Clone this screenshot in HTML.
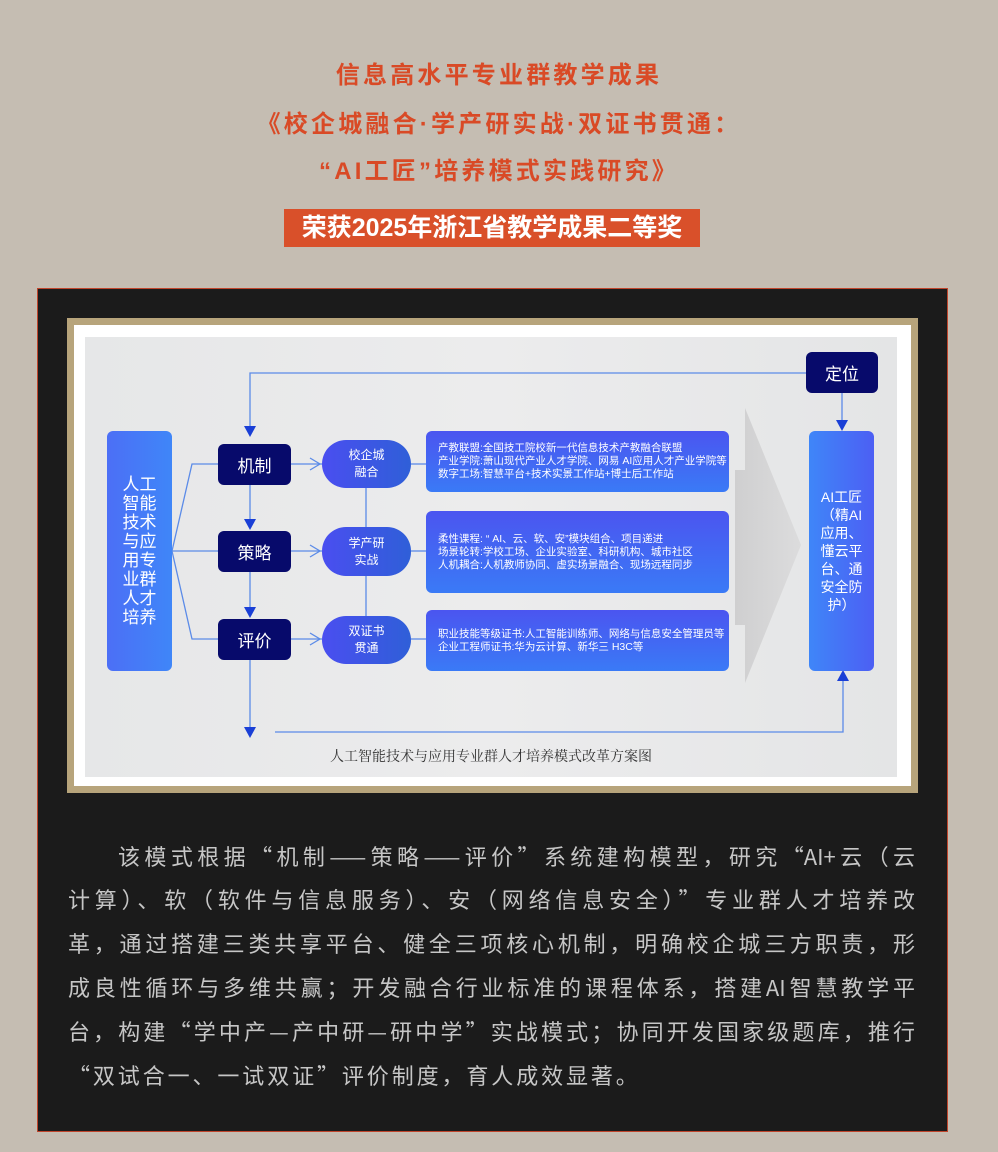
<!DOCTYPE html>
<html><head><meta charset="utf-8"><style>
*{margin:0;padding:0;box-sizing:border-box}
body{width:998px;height:1152px;background:#c5bdb2;position:relative;overflow:hidden;font-family:"Liberation Sans","Noto Sans CJK SC",sans-serif}
.t{position:absolute;left:0;width:998px;text-align:center;color:#d94a26;font-weight:bold;font-size:24px;letter-spacing:3.2px;line-height:30px}
.banner{position:absolute;left:284px;top:209px;width:416px;height:38px;background:#d9502a;color:#fff;font-weight:bold;font-size:25px;line-height:38px;text-align:center}
.panel{position:absolute;left:37px;top:288px;width:911px;height:844px;background:#1b1b1b;border:1px solid #c0452b}
.gold{position:absolute;left:67px;top:318px;width:851px;height:475px;background:#b7a47b}
.white{position:absolute;left:74px;top:325px;width:837px;height:461px;background:#fff}
.dia{position:absolute;left:85px;top:337px;width:812px;height:440px;background:linear-gradient(90deg,#e6e7e8,#ececed 50%,#e4e5e6)}
.a{position:absolute;display:flex;align-items:center;justify-content:center;text-align:center;color:#fff}
.nav{background:#070a6b;border-radius:6px;font-size:17px}
.pill{background:linear-gradient(90deg,#4a4ef0,#2f5fd8);border-radius:24px;font-size:12px;line-height:17px}
.info{background:linear-gradient(180deg,#4b55f0,#3a7af6);border-radius:6px;font-size:10.5px;line-height:13px;justify-content:flex-start;text-align:left;padding-left:12px}
.vb{background:linear-gradient(90deg,#4c6ff6,#3f86f8);border-radius:6px}
p.l{position:absolute;left:68px;width:847px;color:#c6c6c6;font-family:"Noto Sans CJK SC",sans-serif;font-size:22px;white-space:nowrap;line-height:30px;text-align:justify;text-align-last:justify}
</style></head><body>
<div class="t" style="top:61px">信息高水平专业群教学成果</div>
<div class="t" style="top:110px">《校企城融合·学产研实战·双证书贯通：</div>
<div class="t" style="top:157px">“AI工匠”培养模式实践研究》</div>
<div class="banner">荣获2025年浙江省教学成果二等奖</div>
<div class="panel"></div>
<div class="gold"></div><div class="white"></div><div class="dia"></div>
<svg style="position:absolute;left:0;top:0" width="998" height="1152">
<defs><linearGradient id="g" x1="0" x2="1"><stop offset="0" stop-color="#cfcfd0"/><stop offset="1" stop-color="#dcdcdd"/></linearGradient></defs>
<polygon points="735,470 745,470 745,408 801,545 745,683 745,625 735,625" fill="url(#g)"/>
<g stroke="#5b8be8" stroke-width="1.3" fill="none">
<polyline points="806,373 250,373 250,430"/>
<line x1="842" y1="393" x2="842" y2="420"/>
<line x1="250" y1="485" x2="250" y2="520"/>
<line x1="250" y1="572" x2="250" y2="608"/>
<line x1="250" y1="660" x2="250" y2="728"/>
<polyline points="275,732 843,732 843,680"/>
<line x1="366" y1="488" x2="366" y2="527"/>
<line x1="366" y1="576" x2="366" y2="616"/>
<polyline points="172,551 192,464 218,464"/>
<polyline points="172,551 218,551"/>
<polyline points="172,551 192,639 218,639"/>
<line x1="291" y1="464" x2="322" y2="464"/><line x1="291" y1="551" x2="322" y2="551"/><line x1="291" y1="639" x2="322" y2="639"/>
<line x1="411" y1="464" x2="426" y2="464"/><line x1="411" y1="551" x2="426" y2="551"/><line x1="411" y1="639" x2="426" y2="639"/>
<polyline points="226,458 218,464 226,470"/><polyline points="226,545 218,551 226,557"/><polyline points="226,633 218,639 226,645"/>
<polyline points="310,458 320,464 310,470"/><polyline points="310,545 320,551 310,557"/><polyline points="310,633 320,639 310,645"/>
</g>
<g fill="#1a3fd6">
<polygon points="244,426 256,426 250,437"/><polygon points="836,420 848,420 842,431"/>
<polygon points="244,519 256,519 250,530"/><polygon points="244,607 256,607 250,618"/>
<polygon points="244,727 256,727 250,738"/><polygon points="837,681 849,681 843,670"/>
</g>
</svg>
<div class="a vb" style="left:107px;top:431px;width:65px;height:240px;font-size:17px;line-height:19px">人工<br>智能<br>技术<br>与应<br>用专<br>业群<br>人才<br>培养</div>
<div class="a nav" style="left:218px;top:444px;width:73px;height:41px">机制</div>
<div class="a nav" style="left:218px;top:531px;width:73px;height:41px">策略</div>
<div class="a nav" style="left:218px;top:619px;width:73px;height:41px">评价</div>
<div class="a pill" style="left:322px;top:440px;width:89px;height:48px">校企城<br>融合</div>
<div class="a pill" style="left:322px;top:527px;width:89px;height:49px">学产研<br>实战</div>
<div class="a pill" style="left:322px;top:616px;width:89px;height:48px">双证书<br>贯通</div>
<div class="a info" style="left:426px;top:431px;width:303px;height:61px">产教联盟:全国技工院校新一代信息技术产教融合联盟<br>产业学院:萧山现代产业人才学院、网易 AI应用人才产业学院等<br>数字工场:智慧平台+技术实景工作站+博士后工作站</div>
<div class="a info" style="left:426px;top:511px;width:303px;height:82px">柔性课程: “ AI、云、软、安”模块组合、项目递进<br>场景轮转:学校工场、企业实验室、科研机构、城市社区<br>人机耦合:人机教师协同、虚实场景融合、现场远程同步</div>
<div class="a info" style="left:426px;top:610px;width:303px;height:61px">职业技能等级证书:人工智能训练师、网络与信息安全管理员等<br>企业工程师证书:华为云计算、新华三 H3C等</div>
<div class="a nav" style="left:806px;top:352px;width:72px;height:41px">定位</div>
<div class="a vb" style="left:809px;top:431px;width:65px;height:240px;font-size:14px;line-height:18px;background:linear-gradient(90deg,#3f86f8,#4c5ff4)">AI工匠<br>（精AI<br>应用、<br>懂云平<br>台、通<br>安全防<br>护）</div>
<div style="position:absolute;left:85px;top:746px;width:812px;text-align:center;font-family:'Liberation Serif','Noto Serif CJK SC',serif;font-size:14px;color:#333">人工智能技术与应用专业群人才培养模式改革方案图</div>
<p class="l" style="top:841px;left:118px;width:797px">该模式根据“机制——策略——评价”系统建构模型，研究“AI+云（云</p>
<p class="l" style="top:884px">计算）、软（软件与信息服务）、安（网络信息安全）”专业群人才培养改</p>
<p class="l" style="top:928px">革，通过搭建三类共享平台、健全三项核心机制，明确校企城三方职责，形</p>
<p class="l" style="top:972px">成良性循环与多维共赢；开发融合行业标准的课程体系，搭建AI智慧教学平</p>
<p class="l" style="top:1016px">台，构建“学中产—产中研—研中学”实战模式；协同开发国家级题库，推行</p>
<p class="l" style="top:1060px;text-align-last:left;letter-spacing:2.9px">“双试合一、一试双证”评价制度，育人成效显著。</p>
</body></html>
